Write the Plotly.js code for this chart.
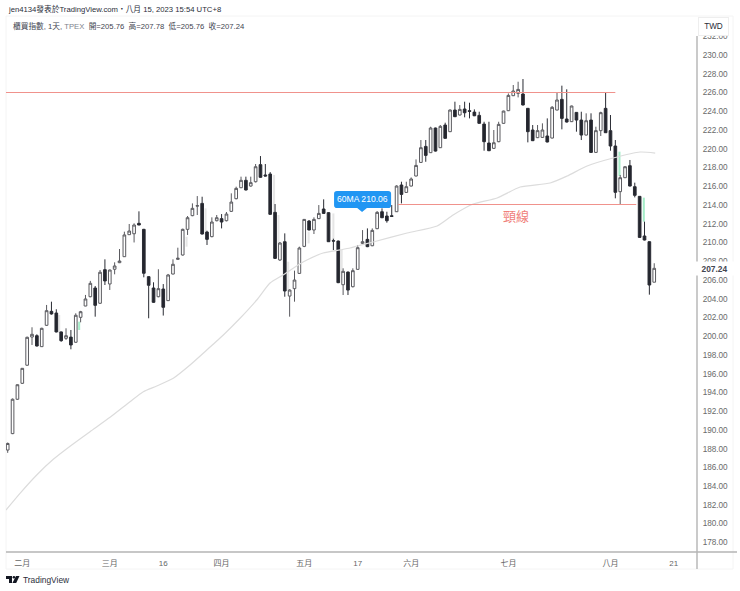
<!DOCTYPE html>
<html>
<head>
<meta charset="utf-8">
<title>櫃買指數</title>
<script src="https://cdn.plot.ly/plotly-2.35.2.min.js"></script>
<style>
html, body { margin: 0; padding: 0; background: #fff; }
#myDiv { width: 740px; height: 591px; }
</style>
</head>
<body>
<div id="myDiv"></div>
<script>
// values
let candleOpen = [187.85,189.6,193.27,194.97,196.9,199.91,200.05,198.88,201.16,202.65,202.47,200.45,199.77,199.9,199.35,202.01,203.22,204.21,205.14,203.51,
    207.1,205.57,207.14,207.84,208.48,210.83,210.93,212.04,211.4,206.35,205.14,204.21,205.03,203.79,206.63,208.2,208.66,211.4,212.86,213.88,
    214.17,211.11,210.62,212.32,212.54,212.32,213.32,214.67,215.84,216.63,216.02,216.48,218.3,217.2,217.3,213.21,208.13,210.08,204.28,205.07,
    206.7,209.58,212.29,211.33,212.54,213.57,213.18,210.19,210.15,205.49,206.84,205.28,207.13,209.9,210.33,209.65,211.47,213.28,212.82,212.85,
    213.28,216.13,215.34,216.02,217.09,218.54,220.25,219.58,222.21,220.11,222.53,221.82,224.13,223.6,224.24,224.06,223.91,223.56,222.63,220.61,
    220.04,220.75,222.71,224.06,225.66,225.91,225.84,224.31,222,221.18,221.21,221.36,221.14,224.13,225.27,223.17,222.89,223.88,223.06,221.46,
    223.06,219.61,221.93,224.31,221.93,220.29,215.42,216.91,218.19,215.95,214.92,210.69,210.08,205.76];
let candleHigh = [188.65,193.35,194.85,196.6,199.95,200.95,200.2,200.9,203.33,203.68,202.87,200.5,200.84,200.66,202.44,202.7,204.4,205.9,205.35,207.06,
    208.2,207.1,207.88,209.3,211.15,211.97,212.04,213.32,211.45,206.4,205.75,207.14,205.56,206.64,208.2,209.44,211.47,212.82,214.17,214.95,
    214.88,211.25,212.68,212.93,213.03,213.25,215.24,215.95,217.02,217.02,217.02,218.37,219.22,218.37,217.51,214.1,210.05,210.97,205,206.99,
    209.55,212.5,212.39,212.68,213.99,214.6,213.22,210.4,210.2,207.24,206.9,207.24,209.73,211.32,211.5,211.5,213.35,213.64,213.28,213.99,
    216.1,216.48,216.48,216.94,218.86,220.93,220.93,222.35,222.25,222.53,222.78,224.2,225.02,224.66,225.02,224.91,224.2,223.95,222.88,222.88,
    222,222.88,224.06,225.9,226.8,227.15,227.44,224.35,222.53,222.53,222.71,223.24,224.56,225.98,226.73,226.34,224.6,223.92,223.95,223.78,
    223.78,222.35,223.95,226.02,223.6,220.93,217.2,218.12,218.8,216.38,214.95,212.22,210.12,207.78];
let candleLow = [187.55,189.55,193.2,194.9,196.85,199.06,198.9,198.85,201.1,202.3,200.4,199.4,199.6,198.6,199.3,201.48,203.2,204.15,202.08,203.45,
    205.46,204.93,206.6,207.8,208.45,210.8,210,211.85,206.28,201.91,203.55,204.15,202.2,203.75,206.6,208.15,208.6,210.8,212.8,212.93,
    210.85,209.73,210.55,212.25,211.5,212.25,213.25,214.6,215.8,215.55,215.95,216.4,216.9,217.05,212.95,208.25,208.02,204.21,202.08,203.68,
    206.65,209.5,211.3,210.9,212.5,213.05,210.05,209.19,205.66,204.39,204.39,205.2,207.1,209.85,209.5,209.6,211.42,212.6,212.11,212.75,
    213.25,214.17,215.3,215.98,217.05,218.5,218.61,219.55,219.7,220.08,221.08,221.78,223.38,223.55,223.35,223.24,223.48,222.68,219.79,219.75,
    220,220.7,222.68,224.02,225.62,225.48,224.62,220.68,220.82,221.14,221.17,220.68,221.1,224.1,222.07,222.8,222.85,221.82,220.93,221.42,
    219.57,219.57,221.36,221.68,219.79,214.71,214.07,216.87,215.98,214.81,210.5,210.22,204.43,205.76];
let candleClose = [188.55,193.27,194.82,196.57,199.88,200.2,198.95,200.84,202.72,202.37,200.45,199.52,200.05,199.06,202.23,202.61,203.97,205.64,203.29,206.82,
    205.89,207.06,207.49,208.02,210.8,211.22,211.86,211.86,206.71,205.43,203.61,205.07,203.08,206.53,207.67,208.31,211.4,212.64,213.64,213.92,
    210.9,210.33,212.18,212.64,212.18,213.03,214.31,215.77,216.63,215.6,216.38,218.08,216.95,217.09,213,208.3,209.94,204.82,204.92,205.99,
    209.41,212.46,211.33,212.46,213.1,213.1,210.08,210.15,205.71,206.92,204.92,206.99,209.44,210.08,209.55,211.29,213.21,212.64,212.32,212.78,
    216.02,215.13,215.95,216.77,218.22,220.11,219.29,222.21,219.75,222.39,221.11,224.13,223.42,224.2,223.84,223.99,223.52,222.71,220.75,219.79,
    220.64,222.6,224.02,225.69,226.16,226.33,224.67,221.82,220.86,221.93,222,220.72,224.42,225.2,223.24,222.85,224.56,223.06,221.46,222.99,
    219.61,221.93,223.85,221.71,220.29,215.35,216.91,218.08,216.02,215.03,210.54,210.26,205.46,207.24];

let maIndex = [-0.35,2.53,5.97,9.38,13.17,16.93,21.05,25.16,27.9,30.66,34.07,37.51,40.95,44.36,47.8,51.23,53.97,56.65,60.76,64.88,68.38,70.44,71.88,75.17,82.17,88.34,91.63,95.75,100.69,105.42,111.59,115.09,119.2,124.55,130.1,133.2];
let maValues = [181.45,183.23,185.19,186.86,188.39,189.81,191.34,193.01,194.08,194.68,195.51,196.92,198.52,200.13,201.91,203.86,205.67,206.53,207.91,208.87,209.2,209.41,209.62,210.05,211.01,211.76,212.93,214.1,214.74,215.92,216.34,217.09,218.16,219.01,219.65,219.54];

let greyIndex = [10.6,36.8,40.7,54.8,55.7,57.7,61.9,67,68.7];
let greyTop = [202.26,210.61,213.64,217.2,212.93,207.95,211.15,213.1,209.2];
let greyBottom = [200.34,209.55,210.8,213.1,208.48,204.92,209.9,210.26,206.7];
let greenIndex = [14.7,125.85,130.86];
let greenTop = [201.55,219.69,214.78];
let greenBottom = [200.66,217.09,212.22];

let resistanceX = [-0.35,125];
let resistanceY = [226,226];
let necklineX = [80.3,129.3];
let necklineY = [214.05,214.05];

let yTickValues = [178,180,182,184,186,188,190,192,194,196,198,200,202,204,206,208,210,212,214,216,218,220,222,224,226,228,230,232];
let xTickValues = [3,21,32,44,61,72,83,103,124,137];
let xTickLabels = ["二月","三月","16","四月","五月","17","六月","七月","八月","21"];

const FONT = "'Liberation Sans', 'Noto Sans CJK TC', sans-serif";
const WIDTH = 740, HEIGHT = 591;
const LEFT = 6, RIGHT = 697, TOP = 36, BOTTOM = 552;

// page pixels to paper coords, for the things that sit outside the plot
function pxX(x) { return (x - LEFT) / (RIGHT - LEFT); }
function pxY(y) { return (BOTTOM - y) / (BOTTOM - TOP); }

function textAt(x, y, text, size, color, extra) {
    return Object.assign({
        xref: 'paper', yref: 'paper', x: pxX(x), y: pxY(y),
        xanchor: 'left', yanchor: 'middle', showarrow: false, text: text,
        font: { family: FONT, size: size, color: color }
    }, extra || {});
}

function lineShape(x0, y0, x1, y1, color, width) {
    return {
        type: 'line', xref: 'paper', yref: 'paper', layer: 'above',
        x0: pxX(x0), y0: pxY(y0), x1: pxX(x1), y1: pxY(y1),
        line: { color: color, width: width }
    };
}

// rounded box of the 60MA tag, in axis units
function tagPath(x0, x1, y0, y1, tipX, tipY) {
    let rx = 0.6, ry = 0.3, tw = 1;
    return `M ${x0 + rx} ${y1} L ${x1 - rx} ${y1} Q ${x1} ${y1} ${x1} ${y1 - ry} L ${x1} ${y0 + ry} Q ${x1} ${y0} ${x1 - rx} ${y0} ` +
        `L ${tipX + tw} ${y0} L ${tipX} ${tipY} L ${tipX - tw} ${y0} L ${x0 + rx} ${y0} Q ${x0} ${y0} ${x0} ${y0 + ry} L ${x0} ${y1 - ry} Q ${x0} ${y1} ${x0 + rx} ${y1} Z`;
}

let candleX = candleOpen.map((d, i) => i);

function ghostBars(index, top, bottom, color) {
    return {
        type: 'bar', x: index, base: bottom, y: top.map((d, i) => d - bottom[i]),
        width: 0.42, marker: { color: color, line: { width: 0 } }, hoverinfo: 'skip'
    };
}

let traces = [
    ghostBars(greyIndex, greyTop, greyBottom, '#e6e6e6'),
    ghostBars(greenIndex, greenTop, greenBottom, '#a6edc9'),
    { type: 'scatter', mode: 'lines', x: maIndex, y: maValues, line: { color: '#dcdcdc', width: 1.2, shape: 'spline', smoothing: 0.6 } },
    { type: 'scatter', mode: 'lines', x: resistanceX, y: resistanceY, line: { color: '#f0928c', width: 1 } },
    { type: 'scatter', mode: 'lines', x: necklineX, y: necklineY, line: { color: '#f0928c', width: 1 } },
    {
        type: 'candlestick', x: candleX, open: candleOpen, high: candleHigh, low: candleLow, close: candleClose,
        whiskerwidth: 0,
        increasing: { line: { color: '#5a5a5f', width: 1 }, fillcolor: '#ffffff' },
        decreasing: { line: { color: '#2a2c34', width: 1 }, fillcolor: '#23252d' }
    }
];

let layout = {
    width: WIDTH, height: HEIGHT,
    margin: { l: LEFT, r: WIDTH - RIGHT, t: TOP, b: HEIGHT - BOTTOM, pad: 0 },
    paper_bgcolor: '#ffffff', plot_bgcolor: '#ffffff',
    showlegend: false, barmode: 'overlay', boxgap: 0.22,
    font: { family: FONT },
    xaxis: {
        type: 'linear', range: [-0.35, 141.8], showgrid: false, zeroline: false, showline: false,
        rangeslider: { visible: false },
        tickmode: 'array', tickvals: xTickValues, ticktext: xTickLabels,
        ticks: 'outside', ticklen: 3, tickcolor: 'rgba(0,0,0,0)',
        tickfont: { family: FONT, size: 8, color: '#666666' }
    },
    yaxis: {
        side: 'right', range: [176.97, 232.03], showgrid: false, zeroline: false, showline: false,
        tickmode: 'array', tickvals: yTickValues, ticktext: yTickValues.map(d => d.toFixed(2)),
        ticks: 'outside', ticklen: 3, tickcolor: 'rgba(0,0,0,0)',
        tickfont: { family: FONT, size: 8.2, color: '#6a6a6a' }
    },
    shapes: [
        { type: 'rect', xref: 'paper', yref: 'paper', layer: 'below', x0: pxX(6), y0: pxY(16), x1: pxX(733), y1: pxY(569), line: { color: '#f4f4f4', width: 1 } },
        lineShape(697, 36, 697, 569, '#b4b4b4', 1.4),
        lineShape(6, 552, 737, 552, '#b4b4b4', 1.4),
        { type: 'path', xref: 'x', yref: 'y', layer: 'above', path: tagPath(67.14, 78.87, 213.68, 215.49, 72.9, 213.25), fillcolor: '#2196f3', line: { width: 0 } },
        // TradingView logo
        { type: 'path', xref: 'paper', yref: 'paper', layer: 'above', fillcolor: '#131722', line: { width: 0 },
          path: `M ${pxX(6)} ${pxY(576)} L ${pxX(12)} ${pxY(576)} L ${pxX(12)} ${pxY(583)} L ${pxX(9)} ${pxY(583)} L ${pxX(9)} ${pxY(579)} L ${pxX(6)} ${pxY(579)} Z` },
        { type: 'circle', xref: 'paper', yref: 'paper', layer: 'above', fillcolor: '#131722', line: { width: 0 },
          x0: pxX(12.6), y0: pxY(576), x1: pxX(15.2), y1: pxY(578.6) },
        { type: 'path', xref: 'paper', yref: 'paper', layer: 'above', fillcolor: '#131722', line: { width: 0 },
          path: `M ${pxX(16)} ${pxY(576)} L ${pxX(19.5)} ${pxY(576)} L ${pxX(16.2)} ${pxY(583)} L ${pxX(12.4)} ${pxY(583)} Z` }
    ],
    annotations: [
        textAt(6, 9, "jen4134發表於TradingView.com・八月 15, 2023 15:54 UTC+8", 7.7, '#2a2e39'),
        textAt(11, 26.5, "櫃買指數, 1天, <span style=\"color:#80838c\">TPEX</span>  開=205.76  高=207.78  低=205.76  收=207.24", 7.7, '#434651'),
        textAt(21, 580, "TradingView", 8.4, '#2a2e39'),
        { xref: 'x', yref: 'y', x: 72.9, y: 214.6, showarrow: false, text: "60MA 210.06", font: { family: FONT, size: 8.6, color: '#ffffff' } },
        { xref: 'x', yref: 'y', x: 104.6, y: 212.9, showarrow: false, text: "頸線", font: { family: "'Noto Sans CJK TC'", size: 13, color: '#f0807a' } },
        { xref: 'paper', yref: 'y', x: pxX(714.5), y: 207.24, xanchor: 'center', showarrow: false, text: "<b>207.24</b>", width: 37, height: 11, bgcolor: '#ffffff', font: { family: FONT, size: 8.4, color: '#434651' } },
        { xref: 'paper', yref: 'paper', x: pxX(713.5), y: pxY(27), xanchor: 'center', yanchor: 'middle', showarrow: false, text: "TWD", width: 27, height: 15, bgcolor: '#ffffff', bordercolor: '#eeeeee', borderwidth: 1, font: { family: FONT, size: 8.2, color: '#2a2e39' } }
    ]
};

Plotly.newPlot('myDiv', traces, layout, { displayModeBar: false, staticPlot: true });
</script>
</body>
</html>
